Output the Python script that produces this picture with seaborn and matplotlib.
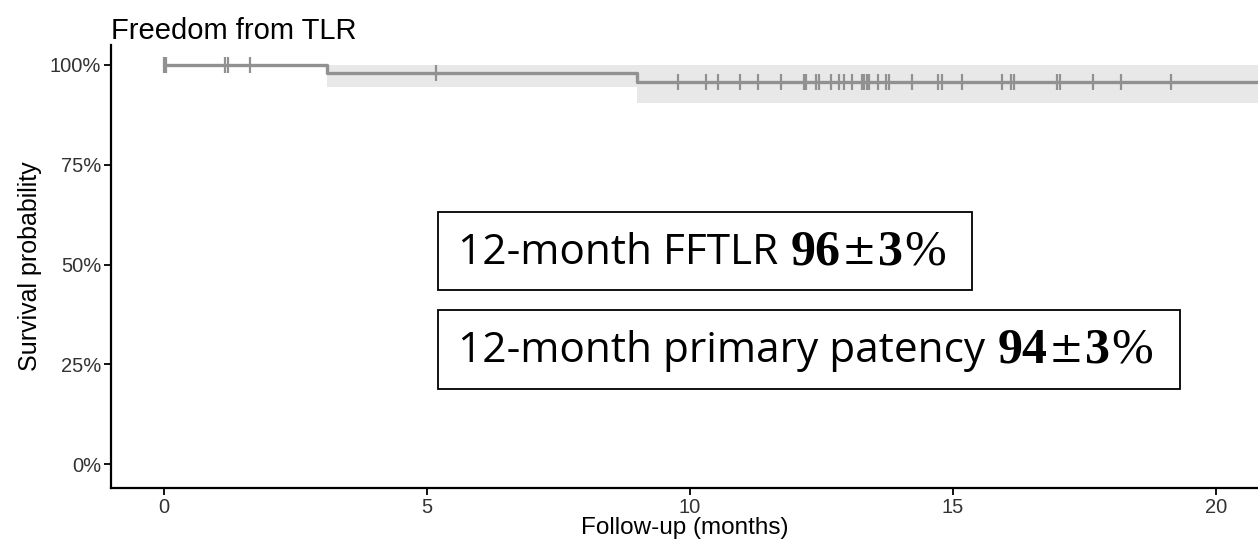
import numpy as np
import pandas as pd
import matplotlib
matplotlib.use("Agg")
import matplotlib.pyplot as plt
import seaborn as sns
from matplotlib.offsetbox import TextArea, HPacker, AnchoredOffsetbox
from matplotlib.patches import Rectangle

# ---- data ----
step_time = [0.0, 3.1, 9.0, 21.0]
step_surv = [1.0, 0.98, 0.957, 0.957]
step_lower = [1.0, 0.945, 0.905, 0.905]
step_upper = [1.0, 1.0, 1.0, 1.0]
censor_times = [0.0, 0.05, 1.16, 1.22, 1.65, 5.17, 9.77, 10.30, 10.53, 10.96,
                11.30, 11.74, 12.17, 12.21, 12.39, 12.46, 12.68, 12.83, 12.93,
                13.08, 13.27, 13.31, 13.36, 13.41, 13.58, 13.73, 13.78, 14.23,
                14.71, 14.80, 15.17, 15.94, 16.10, 16.16, 16.98, 17.03, 17.67,
                18.20, 19.14]
x_ticks = [0, 5, 10, 15, 20]
y_ticks = [0, 0.25, 0.5, 0.75, 1.0]
y_tick_labels = ["0%", "25%", "50%", "75%", "100%"]
title = "Freedom from TLR"
x_label = "Follow-up (months)"
y_label = "Survival probability"
box1_parts = ["12-month FFTLR ", "96", "\u00b1", "3", "%"]
box2_parts = ["12-month primary patency ", "94", "\u00b1", "3", "%"]

line_color = "#919191"
band_color = "#e8e8e8"

sns.set_theme(style="ticks")
plt.rcParams["font.family"] = ["Liberation Sans", "DejaVu Sans"]

W, H = 1258, 541
fig = plt.figure(figsize=(W / 100, H / 100), dpi=100)
ax = fig.add_axes([111 / W, (H - 488) / H, 1 - 111 / W, (488 - 45) / H])

km = pd.DataFrame({"time": step_time, "surv": step_surv})
st = np.array(step_time)
ss = np.array(step_surv)
idx = np.searchsorted(st, np.array(censor_times), side="right") - 1
cens = pd.DataFrame({"time": censor_times, "surv": ss[idx]})

ax.fill_between(step_time, step_lower, step_upper, step="post",
                color=band_color, lw=0, zorder=0)
sns.lineplot(data=km, x="time", y="surv", drawstyle="steps-post",
             color=line_color, lw=2.4, ax=ax, zorder=2)
sns.scatterplot(data=cens, x="time", y="surv", marker="|", s=130,
                color=line_color, linewidth=1.6, ax=ax, zorder=3)

ax.set_xlim(-1.0, 20.8)
ax.set_ylim(-0.06, 1.05)
ax.set_xticks(x_ticks)
ax.set_xticklabels([str(t) for t in x_ticks])
ax.set_yticks(y_ticks)
ax.set_yticklabels(y_tick_labels)
ax.tick_params(axis="both", labelsize=14.5, colors="black", labelcolor="#333333",
               length=5, width=1.3, pad=2)
for s in ["left", "bottom"]:
    ax.spines[s].set_linewidth(1.6)
    ax.spines[s].set_color("black")
sns.despine(ax=ax)
ax.set_xlabel(x_label, fontsize=17.5, color="black", labelpad=0)
ax.set_ylabel(y_label, fontsize=18, color="black", labelpad=6)
ax.set_title(title, loc="left", fontsize=21, pad=4, color="black", x=0.0)

# ---- annotation boxes ----
def box_text(parts, y_center):
    sans = dict(family=["Open Sans", "DejaVu Sans"], size=30.5, color="black")
    bold = dict(family=["Liberation Serif", "DejaVu Serif"], size=36,
                weight="bold", color="black")
    pm = dict(family=["DejaVu Serif"], size=30, color="black")
    pct = dict(family=["Liberation Serif", "DejaVu Serif"], size=36, color="black")
    props = [sans, bold, pm, bold, pct]
    children = [TextArea(p, textprops=pr) for p, pr in zip(parts, props)]
    pack = HPacker(children=children, align="baseline", pad=0, sep=1)
    ab = AnchoredOffsetbox(loc="center left", child=pack, pad=0, borderpad=0,
                           frameon=False, bbox_to_anchor=(458 / W, y_center),
                           bbox_transform=fig.transFigure)
    fig.add_artist(ab)

fig.add_artist(Rectangle((438 / W, (H - 290) / H), (972 - 438) / W, 78 / H,
                         transform=fig.transFigure, fill=False, ec="black", lw=1.3))
fig.add_artist(Rectangle((438 / W, (H - 389) / H), (1180 - 438) / W, 79 / H,
                         transform=fig.transFigure, fill=False, ec="black", lw=1.3))
box_text(box1_parts, (H - 252) / H)
box_text(box2_parts, (H - 350) / H)

fig.savefig("out.png", dpi=100)
